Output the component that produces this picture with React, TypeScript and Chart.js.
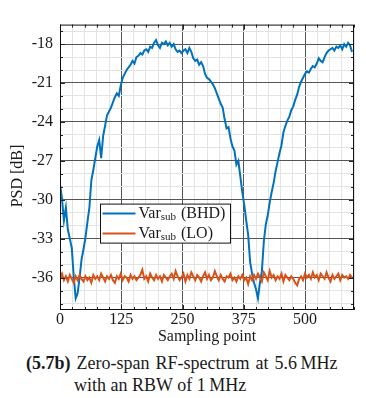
import React, { useEffect, useRef } from "react";
import { Chart, registerables } from "chart.js";

Chart.register(...registerables);

// ---- data ----
const SAMPLE_STEP = 4; // sampling points 0,4,8,...,596
const xTickLabels = [0, 125, 250, 375, 500];
const yTickLabels = [-36, -33, -30, -27, -24, -21, -18];
const seriesNames = ["BHD", "LO"];
const seriesColors = ["#0072BD", "#D95319"];

const bhd = [
  -28.8, -29.9, -31.6, -30.6, -32.3, -33.0, -33.7, -35.9, -37.6, -37.2,
  -36.0, -34.6, -33.8, -32.9, -31.7, -30.6, -28.5, -27.7, -26.8, -25.9,
  -25.4, -26.8, -25.1, -24.3, -23.5, -23.2, -22.9, -22.5, -22.1, -21.8,
  -22.0, -21.2, -20.6, -20.3, -20.0, -19.8, -19.6, -19.3, -19.5, -19.0,
  -18.9, -18.7, -18.8, -18.5, -18.4, -18.6, -18.2, -18.3, -17.9, -17.7,
  -18.1, -18.3, -17.9, -18.0, -17.8, -18.1, -17.9, -18.2, -18.0, -18.4,
  -18.6, -18.5, -18.7, -18.5, -18.4, -18.7, -18.3, -18.6, -19.1, -19.3,
  -19.2, -19.6, -19.4, -19.7, -20.3, -20.6, -20.7, -20.9, -21.1, -21.4,
  -21.8, -22.2, -22.6, -22.9, -23.8, -24.5, -24.4, -25.3, -25.9, -26.2,
  -27.3, -27.0, -28.2, -29.4, -30.4, -31.6, -32.7, -34.8, -35.7, -36.4,
  -36.9, -37.6, -36.4, -35.5, -33.2, -31.9, -31.2, -30.2, -29.4, -28.7,
  -27.8, -27.1, -26.4, -25.8, -24.8, -24.3, -23.9, -23.6, -23.1, -22.8,
  -22.3, -21.9, -21.3, -20.9, -20.6, -20.3, -20.1, -20.2, -19.9, -19.7,
  -19.8, -19.5, -19.1, -19.3, -19.4, -19.0, -18.7, -18.5, -18.4, -18.3,
  -18.5, -18.2, -18.3, -18.1, -18.4, -18.0, -18.2, -17.9, -18.1, -18.6,
];

const lo = [
  -36.0, -35.7, -36.2, -35.9, -36.3, -35.8, -36.1, -36.4, -35.9, -36.2,
  -35.8, -36.1, -36.3, -35.9, -36.2, -36.0, -36.4, -35.8, -36.1, -35.9,
  -36.2, -35.7, -36.0, -36.3, -35.9, -36.1, -35.8, -36.2, -36.4, -35.9,
  -36.1, -35.7, -36.2, -35.9, -36.0, -36.3, -35.8, -36.1, -35.9, -36.2,
  -36.0, -35.8, -35.4, -36.1, -35.9, -36.3, -35.7, -36.0, -36.2, -35.8,
  -36.1, -35.9, -36.3, -35.8, -36.0, -36.2, -35.9, -35.7, -36.1, -35.5,
  -35.9, -36.2, -36.0, -35.7, -36.3, -35.8, -36.1, -35.6, -35.9, -36.2,
  -35.8, -36.0, -36.3, -35.9, -35.6, -36.1, -35.8, -36.2, -36.0, -35.5,
  -35.9, -36.2, -35.8, -36.1, -36.3, -35.9, -36.0, -35.7, -36.2, -36.0,
  -36.3, -35.9, -36.1, -35.8, -36.2, -36.0, -36.5, -35.9, -36.2, -35.8,
  -36.1, -35.7, -36.0, -36.3, -35.6, -35.9, -36.2, -35.5, -36.0, -35.8,
  -36.2, -35.9, -36.1, -35.7, -36.3, -35.8, -36.0, -36.2, -35.9, -36.1,
  -36.4, -36.6, -36.1, -35.9, -36.2, -35.7, -36.0, -35.8, -36.1, -35.6,
  -36.0, -35.8, -36.2, -35.7, -35.9, -36.1, -35.6, -36.0, -36.3, -35.8,
  -36.1, -35.9, -35.7, -36.2, -35.8, -36.0, -35.9, -36.1, -35.8, -36.0,
];

const X_MIN = 0;
const X_MAX = 600;
const X_MINOR = 25;
const Y_MIN = -38.5;
const Y_MAX = -16.5;
const Y_MINOR = 1;

const FONT = '"Liberation Serif", "Times New Roman", serif';
const TEXT = "#1a1a1a";
const MAJOR = "#555555";
const MINOR = "#e3e3e3";

Chart.defaults.font.family = FONT;
Chart.defaults.font.size = 16;
Chart.defaults.color = TEXT;

const toPoints = (vals: number[]) =>
  vals.map((v, i) => ({ x: i * SAMPLE_STEP, y: v }));

const decorPlugin = {
  id: "decor",
  afterDatasetsDraw(chart: any) {
    const { ctx, chartArea, scales } = chart;
    const { left, top, right, bottom } = chartArea;
    const xs = scales.x;
    const ys = scales.y;
    ctx.save();
    // inward tick marks
    ctx.strokeStyle = "#222";
    ctx.lineWidth = 1;
    ctx.beginPath();
    ys.ticks.forEach((t: any) => {
      const py = Math.round(ys.getPixelForValue(t.value)) + 0.5;
      const len = yTickLabels.includes(t.value) ? 5 : 3;
      ctx.moveTo(left, py);
      ctx.lineTo(left + len, py);
      ctx.moveTo(right, py);
      ctx.lineTo(right - len, py);
    });
    xs.ticks.forEach((t: any) => {
      const px = Math.round(xs.getPixelForValue(t.value)) + 0.5;
      const len = xTickLabels.includes(t.value) ? 5 : 3;
      ctx.moveTo(px, bottom);
      ctx.lineTo(px, bottom - len);
      ctx.moveTo(px, top);
      ctx.lineTo(px, top + len);
    });
    ctx.stroke();

    // legend box
    const bx = left + 40.5;
    const by = top + 179.5;
    const bw = 130;
    const bh = 39;
    ctx.fillStyle = "#ffffff";
    ctx.fillRect(bx, by, bw, bh);
    ctx.strokeStyle = "#111";
    ctx.lineWidth = 1;
    ctx.strokeRect(bx, by, bw, bh);
    seriesNames.forEach((name, i) => {
      const cy = by + 9.5 + i * 20;
      ctx.strokeStyle = seriesColors[i];
      ctx.lineWidth = 2;
      ctx.beginPath();
      ctx.moveTo(bx + 2, cy);
      ctx.lineTo(bx + 35, cy);
      ctx.stroke();
      ctx.fillStyle = TEXT;
      ctx.textBaseline = "middle";
      ctx.textAlign = "left";
      let tx = bx + 38;
      ctx.font = `16px ${FONT}`;
      ctx.fillText("Var", tx, cy);
      tx += ctx.measureText("Var").width;
      ctx.font = `11px ${FONT}`;
      ctx.fillText("sub", tx, cy + 4);
      tx += ctx.measureText("sub").width + 1;
      ctx.font = `16px ${FONT}`;
      ctx.fillText(" (" + name + ")", tx, cy);
    });

    // frame
    ctx.strokeStyle = "#111";
    ctx.lineWidth = 1;
    ctx.strokeRect(left + 0.5, top + 0.5, right - left - 1, bottom - top - 1);

    // y axis title
    ctx.save();
    ctx.translate(10, 168);
    ctx.rotate(-Math.PI / 2);
    ctx.font = `16px ${FONT}`;
    ctx.fillStyle = TEXT;
    ctx.textAlign = "center";
    ctx.textBaseline = "middle";
    ctx.fillText("PSD [dB]", 0, 0);
    ctx.restore();

    ctx.restore();
  },
};

export default function App() {
  const ref = useRef<HTMLCanvasElement | null>(null);

  useEffect(() => {
    if (!ref.current) return;
    const chart = new Chart(ref.current, {
      type: "line",
      data: {
        datasets: [
          {
            label: "Var_sub (BHD)",
            data: toPoints(bhd),
            borderColor: seriesColors[0],
            borderWidth: 2,
            pointRadius: 0,
            tension: 0,
            order: 1,
          },
          {
            label: "Var_sub (LO)",
            data: toPoints(lo),
            borderColor: seriesColors[1],
            borderWidth: 2,
            pointRadius: 0,
            tension: 0,
            order: 0,
          },
        ],
      },
      options: {
        animation: false,
        responsive: false,
        maintainAspectRatio: false,
        layout: { padding: { top: 6, right: 4, left: 0, bottom: 0 } },
        plugins: {
          legend: { display: false },
          tooltip: { enabled: false },
        },
        scales: {
          x: {
            type: "linear",
            min: X_MIN,
            max: X_MAX,
            afterBuildTicks: (scale: any) => {
              const t = [];
              for (let v = X_MIN; v <= X_MAX; v += X_MINOR) t.push({ value: v });
              scale.ticks = t;
            },
            afterFit: (scale: any) => {
              scale.height = 36;
            },
            ticks: {
              autoSkip: false,
              maxRotation: 0,
              padding: 0,
              color: TEXT,
              font: { family: FONT, size: 16 },
              callback: (v: any) => (xTickLabels.includes(v) ? String(v) : ""),
            },
            grid: {
              drawTicks: false,
              color: (c: any) =>
                c.tick && xTickLabels.includes(c.tick.value) ? MAJOR : MINOR,
              lineWidth: 1,
            },
            border: { display: false },
            title: {
              display: true,
              text: "Sampling point",
              color: TEXT,
              font: { family: FONT, size: 16 },
              padding: { top: 0, bottom: 0 },
            },
          },
          y: {
            type: "linear",
            min: Y_MIN,
            max: Y_MAX,
            afterBuildTicks: (scale: any) => {
              const t = [];
              for (let v = Math.ceil(Y_MIN); v <= Math.floor(Y_MAX); v += Y_MINOR)
                t.push({ value: v });
              scale.ticks = t;
            },
            afterFit: (scale: any) => {
              scale.width = 52;
            },
            ticks: {
              autoSkip: false,
              padding: 7,
              color: TEXT,
              font: { family: FONT, size: 16 },
              callback: (v: any) => (yTickLabels.includes(v) ? String(v) : ""),
            },
            grid: {
              drawTicks: false,
              color: (c: any) =>
                c.tick && yTickLabels.includes(c.tick.value) ? MAJOR : MINOR,
              lineWidth: 1,
            },
            border: { display: false },
          },
        },
      },
      plugins: [decorPlugin],
    });
    return () => chart.destroy();
  }, []);

  return (
    <div style={{ width: 350 }}>
      <canvas
        ref={ref}
        width={350}
        height={338}
        style={{ display: "block", width: 350, height: 338 }}
      />
      <div
        style={{
          fontFamily: FONT,
          fontSize: 18,
          lineHeight: "22px",
          color: TEXT,
          marginTop: 6,
          whiteSpace: "nowrap",
        }}
      >
        <div style={{ paddingLeft: 18, wordSpacing: "1.5px" }}>
          <b>(5.7b)</b> Zero-span RF-spectrum at 5.6{"\u2009"}MHz
        </div>
        <div style={{ paddingLeft: 66 }}>with an RBW of 1{"\u2009"}MHz</div>
      </div>
    </div>
  );
}
